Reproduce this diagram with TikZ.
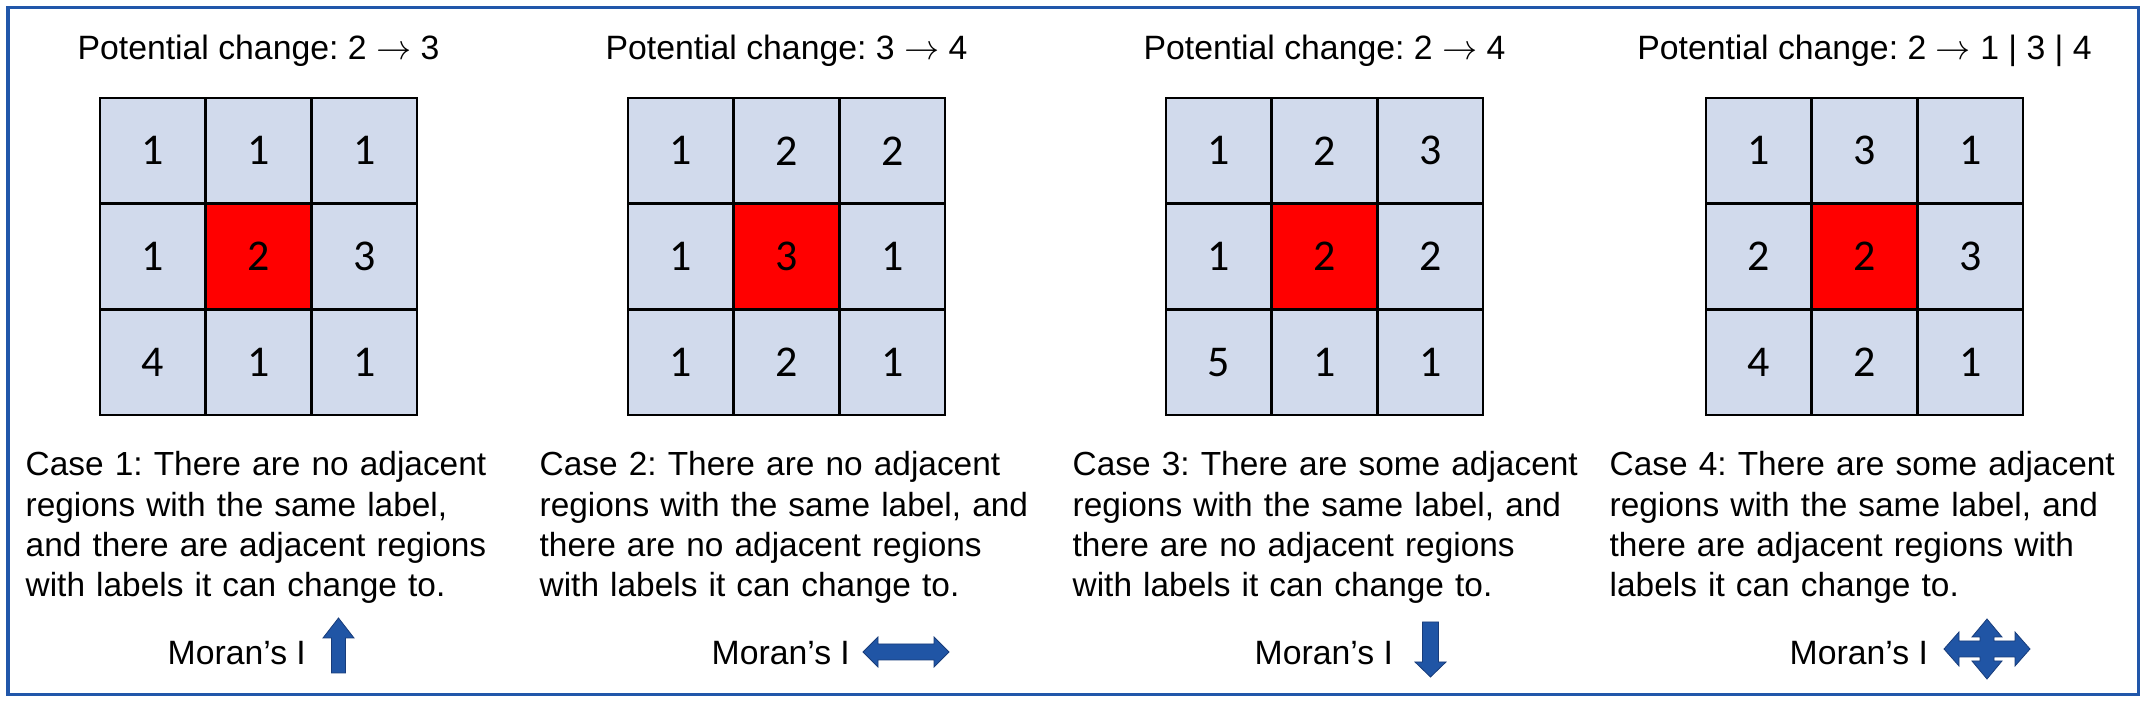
\documentclass[tikz,border=0pt]{standalone}
\usepackage{fontspec}
\setmainfont{Liberation Sans}
\newfontfamily\digitfont{Carlito}
\usepackage{tikz}
\frenchspacing

\definecolor{frameblue}{RGB}{33,87,170}
\definecolor{cellblue}{RGB}{209,218,236}
\definecolor{arrowblue}{RGB}{32,85,165}
\definecolor{arrowedge}{RGB}{24,60,122}

\tikzset{
  cell/.style={draw=black, line width=0.025cm, minimum width=1.057cm, minimum height=1.057cm,
    inner sep=0pt, font=\digitfont\fontsize{12.5}{14}\selectfont},
  title/.style={anchor=base, inner sep=0pt, font=\fontsize{9.6}{11.4}\selectfont},
  casetext/.style={anchor=base west, inner sep=0pt, text width=6cm, align=left,
    font=\fontsize{9.5}{11.38}\selectfont},
  moran/.style={anchor=base west, inner sep=0pt, font=\fontsize{9.6}{11.4}\selectfont},
  blockarrow/.style={fill=arrowblue, draw=arrowedge, line width=0.008cm, line join=miter}
}

% 3x3 grid of regions: name, left x, nine labels
\newcommand{\regiongrid}[3]{%
  \foreach \lab [count=\k from 0] in {#3} {
    \pgfmathtruncatemacro{\gridrow}{\k/3}
    \pgfmathtruncatemacro{\gridcol}{mod(\k,3)}
    \ifnum\k=4 \def\cellcol{red}\else\def\cellcol{cellblue}\fi
    \node[cell, fill=\cellcol] (#1-\k) at ({#2+52.85+105.7*\gridcol},{150.85+105.7*\gridrow}) {\lab};
  }%
}

\begin{document}
\begin{tikzpicture}[x=0.01cm, y=-0.01cm]
    \useasboundingbox (0,0) rectangle (2150,701);
    \draw[frameblue, line width=0.03cm] (8,8) rectangle (2138,695);

    \begin{scope}
      \node[title] (t1) at (258.5,60) {Potential change: 2 $\rightarrow$ 3};
      \regiongrid{g1}{100}{1,1,1,1,2,3,4,1,1}
      \node[casetext] (c1) at (25,476) {Case 1: There are no adjacent\\regions with the same label,\\and there are adjacent regions\\with labels it can change to.};
      \node[moran] (m1) at (167,665) {Moran’s I};
      \draw[blockarrow] (338.5,618) -- (354,638) -- (345.5,638) -- (345.5,673)
        -- (331.5,673) -- (331.5,638) -- (323,638) -- cycle;
    \end{scope}

    \begin{scope}
      \node[title] (t2) at (786.5,60) {Potential change: 3 $\rightarrow$ 4};
      \regiongrid{g2}{628}{1,2,2,1,3,1,1,2,1}
      \node[casetext] (c2) at (539,476) {Case 2: There are no adjacent\\regions with the same label, and\\there are no adjacent regions\\with labels it can change to.};
      \node[moran] (m2) at (711,665) {Moran’s I};
      \draw[blockarrow] (863,652) -- (878,637) -- (878,644) -- (934,644) -- (934,637)
        -- (949,652) -- (934,667) -- (934,660) -- (878,660) -- (878,667) -- cycle;
    \end{scope}

    \begin{scope}
      \node[title] (t3) at (1324.5,60) {Potential change: 2 $\rightarrow$ 4};
      \regiongrid{g3}{1166}{1,2,3,1,2,2,5,1,1}
      \node[casetext] (c3) at (1072,476) {Case 3: There are some adjacent\\regions with the same label, and\\there are no adjacent regions\\with labels it can change to.};
      \node[moran] (m3) at (1254,665) {Moran’s I};
      \draw[blockarrow] (1422.5,622) -- (1438.5,622) -- (1438.5,662) -- (1446,662)
        -- (1430.5,677) -- (1415,662) -- (1422.5,662) -- cycle;
    \end{scope}

    \begin{scope}
      \node[title] (t4) at (1864.5,60) {Potential change: 2 $\rightarrow$ 1 | 3 | 4};
      \regiongrid{g4}{1706}{1,3,1,2,2,3,4,2,1}
      \node[casetext] (c4) at (1609,476) {Case 4: There are some adjacent\\regions with the same label, and\\there are adjacent regions with\\labels it can change to.};
      \node[moran] (m4) at (1789,665) {Moran’s I};
      \draw[blockarrow, shift={(1987,649)}] (43,0) -- (28,-17) -- (28,-8) -- (7,-8) -- (7,-12)
        -- (15,-12) -- (0,-30) -- (-15,-12) -- (-7,-12) -- (-7,-8) -- (-28,-8) -- (-28,-17)
        -- (-43,0) -- (-28,17) -- (-28,8) -- (-7,8) -- (-7,12) -- (-15,12) -- (0,30)
        -- (15,12) -- (7,12) -- (7,8) -- (28,8) -- (28,17) -- cycle;
    \end{scope}
\end{tikzpicture}
\end{document}
